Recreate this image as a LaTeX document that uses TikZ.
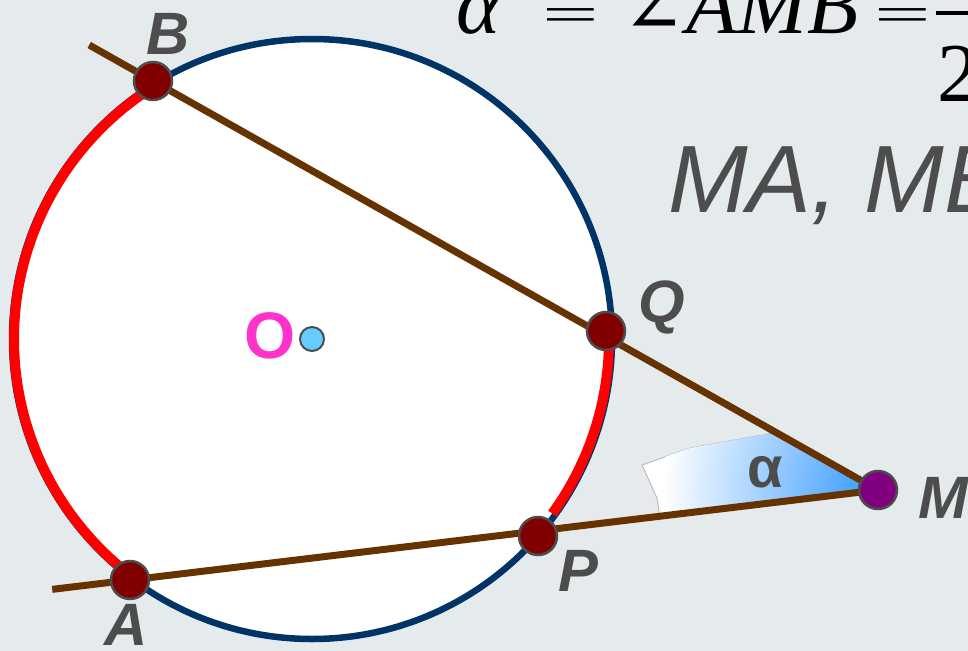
\documentclass[tikz,border=0pt]{standalone}
\usepackage{graphicx}
\usepackage{fontspec}
\setmainfont{Liberation Serif}
\newfontfamily\labelfont{Liberation Sans}
\newfontfamily\symbolfont{DejaVu Serif}
\usetikzlibrary{calc,positioning}
\definecolor{paper}{RGB}{229,234,237}
\definecolor{rim}{RGB}{0,51,102}
\definecolor{secant}{RGB}{102,51,0}
\definecolor{mark}{RGB}{77,77,77}
\definecolor{ptfill}{RGB}{128,0,0}
\definecolor{mfill}{RGB}{128,0,128}
\definecolor{centerblue}{RGB}{102,204,255}
\definecolor{centerpink}{RGB}{255,51,204}
\definecolor{angleblue}{RGB}{51,153,255}
\newcommand{\eqsign}{\raisebox{2bp}{\scalebox{1.2}[0.6]{=}}}
\pgfdeclarelayer{back}
\pgfdeclarelayer{mid}
\pgfsetlayers{back,mid,main}

\begin{document}
\begin{tikzpicture}[
    x=1bp, y=-1bp,
    point/.style={circle, draw=mark, line width=2.5bp, fill=ptfill, minimum size=38bp, inner sep=0pt},
    secant line/.style={draw=secant, line width=7bp},
    arc mark/.style={draw=red, line width=10bp},
    tag/.style={inner sep=0pt, text=mark, font=\labelfont\bfseries\itshape\fontsize{60}{60}\selectfont}
]
    \useasboundingbox (0,0) rectangle (968,651);

    % points on the circle and the outer point
    \node[point] (B) at (153,81) {};
    \node[point] (Q) at (606,331) {};
    \node[point] (P) at (538,536) {};
    \node[point] (A) at (130,580) {};
    \node[point, fill=mfill] (M) at (878,490) {};
    \node[circle, draw=mark, line width=2bp, fill=centerblue, minimum size=24bp, inner sep=0pt] (O) at (312,339) {};

    % free ends of the secants
    \coordinate (Bend) at ($(M.center)!1.088!(B.center)$);
    \coordinate (Aend) at ($(M.center)!1.104!(A.center)$);

    \begin{pgfonlayer}{back}
        \fill[paper] (0,0) rectangle (968,651);
        \draw[rim, line width=6.5bp, fill=white] (O.center) circle[radius=300];
        % angle alpha at M
        \draw[gray!60, line width=0.8bp, fill=white] (M.center) -- (773,433) -- (690,448) -- (642,465) -- (657,498) -- (660,517) -- cycle;
        \begin{scope}
            \clip (M.center) -- (773,433) -- (690,448) -- (642,465) -- (657,498) -- (660,517) -- cycle;
            \shade[inner color=angleblue, outer color=white] (M.center) circle[radius=215];
        \end{scope}
    \end{pgfonlayer}

    \begin{pgfonlayer}{mid}
        % intercepted arcs
        \draw[arc mark] ($(O.center)+(-121.6:298)$) arc[start angle=-121.6, end angle=-232.9, radius=298];
        \draw[arc mark] ($(O.center)+(1:297)$) arc[start angle=1, end angle=36, radius=297];
        % secants
        \draw[secant line] (M.center) -- (Bend);
        \draw[secant line] (M.center) -- (Aend);
    \end{pgfonlayer}

    % labels
    \node[tag] (lB) at (168,34) {B};
    \node[tag] (lQ) at (662,307) {Q};
    \node[tag] (lP) at (578,571) {P};
    \node[tag] (lA) at (126,625) {A};
    \node[tag] (lM) at (943,498) {M};
    \node[tag, font=\labelfont\bfseries\fontsize{58}{58}\selectfont] (alpha) at (765,472) {α};
    \node[inner sep=0pt, text=centerpink, font=\labelfont\bfseries\fontsize{66}{66}\selectfont] (lO) at (270,336) {O};

    % text at the top right
    \node[anchor=base west, inner sep=0pt, font=\fontsize{84}{84}\selectfont] (formula) at (456,34)
        {{\itshape α}\hspace{42bp}\eqsign\hspace{24bp}{\symbolfont\fontsize{76}{76}\selectfont ∠}{\itshape AMB}\hspace{16bp}\eqsign\hspace{5bp}\rule[19bp]{62bp}{4bp}\llap{\makebox[62bp][l]{\hspace{2bp}\raisebox{-68bp}{2}}}};
    \node[anchor=base west, inner sep=0pt, text=mark, font=\labelfont\itshape\fontsize{96}{96}\selectfont] (names) at (668,212) {MA, MB};
\end{tikzpicture}
\end{document}
